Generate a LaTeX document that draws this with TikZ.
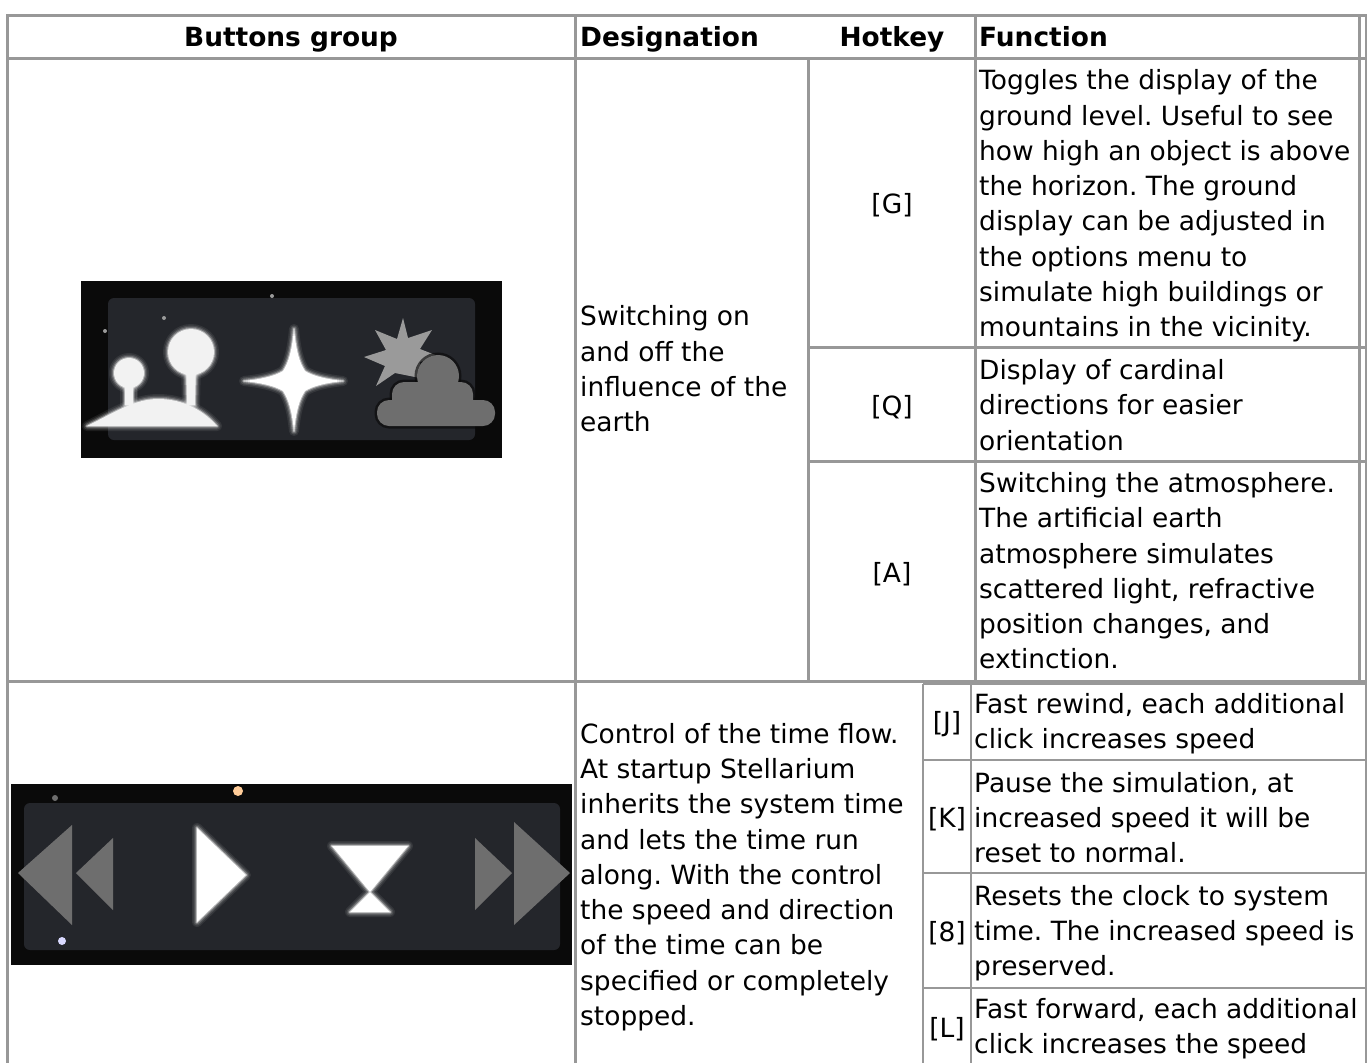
\documentclass[tikz,border=0pt]{standalone}
\usepackage{fontspec}
\setmainfont{DejaVu Sans}
\frenchspacing
\definecolor{rule}{HTML}{989898}
\definecolor{imgblack}{HTML}{0A0A0A}
\definecolor{imgpanel}{HTML}{24262B}
\definecolor{btnoff}{HTML}{6E6E6E}
\definecolor{btnmid}{HTML}{9A9A9A}
\definecolor{btnon}{HTML}{F2F2F2}
\newcommand{\glowshape}[2]{%
  \path[draw=#1,draw opacity=.08,line width=10pt,line join=round] #2;
  \path[draw=#1,draw opacity=.12,line width=7pt,line join=round] #2;
  \path[draw=#1,draw opacity=.22,line width=4.5pt,line join=round] #2;
  \path[draw=#1,draw opacity=.5,line width=2pt,line join=round] #2;
  \path[fill=#1] #2;}
\tikzset{
  gridline/.style={draw=rule,line width=2.7pt},
  edgeline/.style={draw=rule,line width=1.6pt},
  celltext/.style={anchor=west,inner sep=0pt,align=left,font=\fontsize{26.45}{35.25}\selectfont},
  centertext/.style={anchor=center,inner sep=0pt,align=center,font=\fontsize{26.45}{35.25}\selectfont},
  headtext/.style={inner sep=0pt,anchor=base,font=\fontsize{26.4}{35.25}\selectfont\bfseries},
  halo/.style={draw=imgblack,draw opacity=.65,line width=5pt,fill=imgblack},
}
\begin{document}
\begin{tikzpicture}[x=1pt,y=-1pt]
\useasboundingbox (0,0) rectangle (1367,1063);
% grid
\draw[gridline] (6,15.5) -- (1367,15.5);
\draw[gridline] (6,58.5) -- (1367,58.5);
\draw[gridline] (7.5,14) -- (7.5,1063);
\draw[gridline] (575.5,15) -- (575.5,1063);
\draw[gridline] (808.5,58) -- (808.5,681);
\draw[gridline] (975.5,15) -- (975.5,681);
\draw[gridline] (1359.5,15) -- (1359.5,681);
\draw[edgeline] (1366,15) -- (1366,1063);
\draw[gridline] (808,347.5) -- (1366,347.5);
\draw[gridline] (808,461.5) -- (1366,461.5);
\draw[gridline] (7,681.5) -- (1366,681.5);
\draw[gridline] (923,684) -- (1366,684);
\draw[gridline] (923,684) -- (923,1063);
\draw[gridline] (971,684) -- (971,1063);
\draw[gridline] (923,760) -- (1366,760);
\draw[gridline] (923,873) -- (1366,873);
\draw[gridline] (923,988) -- (1366,988);
% header
\node[headtext,anchor=base] (h1) at (291,46.5) {Buttons group};
\node[headtext,anchor=base west] (h2) at (580,46.5) {Designation};
\node[headtext,anchor=base] (h3) at (892,46.5) {Hotkey};
\node[headtext,anchor=base west] (h4) at (979,46.5) {Function};
% first row text
\node[celltext] (d1) at (580,369) {Switching on\\and off the\\influence of the\\earth};
\node[centertext] (kg) at (892,205) {[G]};
\node[centertext] (kq) at (892,407) {[Q]};
\node[centertext] (ka) at (892,574) {[A]};
\node[celltext] (f1) at (979,206) {Toggles the display of the\\ground level. Useful to see\\how high an object is above\\the horizon. The ground\\display can be adjusted in\\the options menu to\\simulate high buildings or\\mountains in the vicinity.};
\node[celltext] (f2) at (979,405) {Display of cardinal\\directions for easier\\orientation};
\node[celltext] (f3) at (979,571) {Switching the atmosphere.\\The artificial earth\\atmosphere simulates\\scattered light, refractive\\position changes, and\\extinction.};
% second row text
\node[celltext] (d2) at (580,877) {Control of the time flow.\\At startup Stellarium\\inherits the system time\\and lets the time run\\along. With the control\\the speed and direction\\of the time can be\\specified or completely\\stopped.};
\node[centertext] (kj) at (947,724) {[J]};
\node[centertext] (kk) at (947,819) {[K]};
\node[centertext] (k8) at (947,933) {[8]};
\node[centertext] (kl) at (947,1029) {[L]};
\node[celltext] (f4) at (974,724) {Fast rewind, each additional\\click increases speed};
\node[celltext] (f5) at (974,817.5) {Pause the simulation, at\\increased speed it will be\\reset to normal.};
\node[celltext] (f6) at (974,933) {Resets the clock to system\\time. The increased speed is\\preserved.};
\node[celltext] (f7) at (974,1029) {Fast forward, each additional\\click increases the speed};
% image 1
\fill[imgblack] (81,281) rectangle (502,458);
\fill[imgpanel,rounded corners=6pt] (108,298) rectangle (475,440);
\fill[btnoff!70] (272,296) circle (2);
\fill[btnoff!70] (105,331) circle (2);
\fill[btnoff!70] (164,318) circle (2);
\glowshape{btnon}{(191,352) circle (23)}
\glowshape{btnon}{(129,373) circle (15)}
\glowshape{btnon}{(186,365) -- (196,365) -- (195,405) -- (187,405) -- cycle}
\glowshape{btnon}{(125,385) -- (133,385) -- (133,405) -- (125,405) -- cycle}
\glowshape{btnon}{(87,426) .. controls (115,412) and (135,399) .. (158,399) .. controls (185,399) and (205,412) .. (217,426) -- cycle}
\glowshape{white}{(294,329) .. controls (296,350) and (299,362) .. (305,371) .. controls (313,376) and (325,379) .. (343,381) .. controls (325,383) and (313,386) .. (305,391) .. controls (299,400) and (296,412) .. (294,431) .. controls (292,412) and (289,400) .. (283,391) .. controls (275,386) and (262,383) .. (244,381) .. controls (262,379) and (275,376) .. (283,371) .. controls (289,362) and (292,350) .. (294,329) -- cycle}
\fill[btnmid] (403,318) -- (408,338) -- (432,330) -- (420,349) -- (438,356) -- (420,362) -- (420,378) -- (395,373) -- (376,386) -- (385,366) -- (364,357) -- (386,350) -- (375,330) -- (397,339) -- cycle;
\path[halo,rounded corners=12pt] (377,400) rectangle (495,426);
\path[halo,rounded corners=12pt] (392,382) rectangle (473,415);
\path[halo] (438,376) circle (21);
\fill[btnoff,rounded corners=12pt] (377,400) rectangle (495,426);
\fill[btnoff,rounded corners=12pt] (392,382) rectangle (473,415);
\fill[btnoff] (438,376) circle (21);
% image 2
\fill[imgblack] (11,784) rectangle (572,965);
\fill[imgpanel,rounded corners=6pt] (24,803) rectangle (560,950);
\fill[btnoff] (18,873) -- (72,825) -- (72,925) -- cycle;
\fill[btnoff] (76,873) -- (113,838) -- (113,910) -- cycle;
\glowshape{white}{(197,828) -- (246,875) -- (197,922) -- cycle}
\glowshape{white}{(332,846) -- (408,846) -- (370,892) -- (390,912) -- (350,912) -- (370,892) -- cycle}
\fill[btnoff] (475,838) -- (512,873) -- (475,910) -- cycle;
\fill[btnoff] (514,822) -- (570,873) -- (514,925) -- cycle;
\fill[orange!40!white] (238,791) circle (5);
\fill[white!85!blue] (62,941) circle (4);
\fill[btnoff] (55,798) circle (3);
\end{tikzpicture}
\end{document}
